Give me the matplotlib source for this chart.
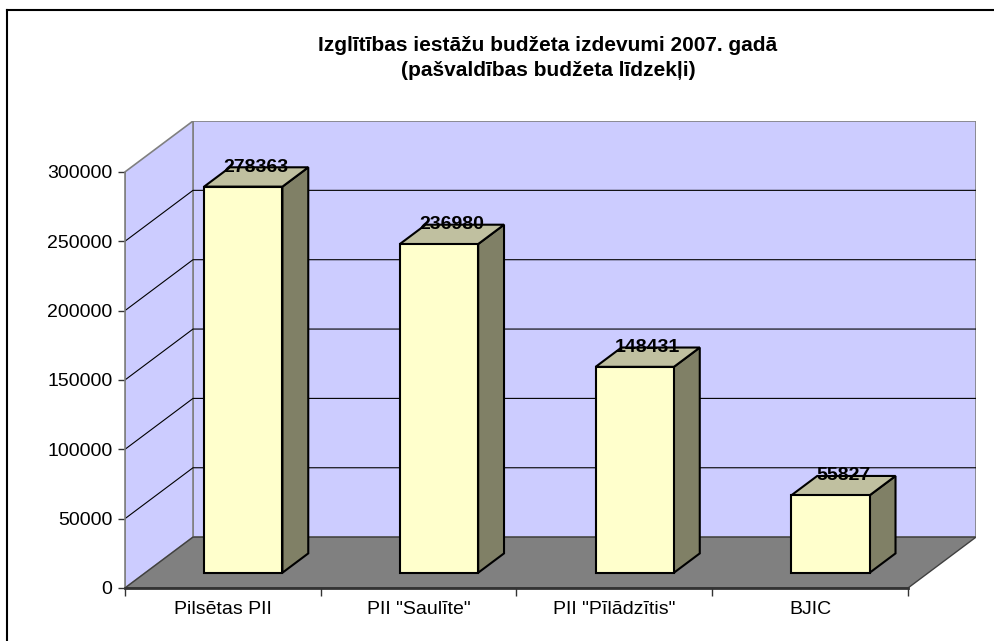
import matplotlib
matplotlib.use('Agg')
import matplotlib.pyplot as plt
from matplotlib.patches import Polygon
from matplotlib.lines import Line2D
import numpy as np

plt.rcParams['font.family'] = ['Liberation Sans', 'DejaVu Sans']

# data
categories = ['Pilsētas PII', 'PII "Saulīte"', 'PII "Pīlādzītis"', 'BJIC']
values = [278363, 236980, 148431, 55827]
yticks = [0, 50000, 100000, 150000, 200000, 250000, 300000]
title = 'Izglītības iestāžu budžeta izdevumi 2007. gadā\n(pašvaldības budžeta līdzekļi)'

ymax = 300000
n = len(categories)
# 3d depth offset in data units
DX = 0.3474
DY = 36691
D0, D1 = 0.3, 0.68
W = 0.4

fig = plt.figure(figsize=(9.94, 6.41), dpi=100)
ax = fig.add_axes([125/994, 53/641, 851/994, 467/641])
ax.set_xlim(0, n + DX)
ax.set_ylim(0, ymax + DY)

# walls and floor
back = Polygon([(DX, DY), (n + DX, DY), (n + DX, ymax + DY), (DX, ymax + DY)],
               closed=True, facecolor='#CCCCFF', edgecolor='#808080', lw=1.2, zorder=1)
side = Polygon([(0, 0), (DX, DY), (DX, ymax + DY), (0, ymax)],
               closed=True, facecolor='#CCCCFF', edgecolor='#808080', lw=1.2, zorder=1)
ax.add_patch(back)
ax.add_patch(side)
for v in yticks[1:-1]:
    ax.plot([0, DX, n + DX], [v, v + DY, v + DY], color='black', lw=0.8, zorder=2)
floor = Polygon([(0, 0), (n, 0), (n + DX, DY), (DX, DY)],
                closed=True, facecolor='#808080', edgecolor='#404040', lw=1, zorder=3)
ax.add_patch(floor)

# bars
pos = np.arange(n) + 0.5
ax.bar(pos + D0*DX, values, width=W, bottom=D0*DY, color='#FFFFCC',
       edgecolor='black', lw=1.5, zorder=5)
for p, v in zip(pos, values):
    xl, xr = p - W/2, p + W/2
    sidef = Polygon([(xr + D0*DX, D0*DY), (xr + D1*DX, D1*DY),
                     (xr + D1*DX, v + D1*DY), (xr + D0*DX, v + D0*DY)],
                    closed=True, facecolor='#808066', edgecolor='black', lw=1.5, zorder=4)
    topf = Polygon([(xl + D0*DX, v + D0*DY), (xr + D0*DX, v + D0*DY),
                    (xr + D1*DX, v + D1*DY), (xl + D1*DX, v + D1*DY)],
                   closed=True, facecolor='#C0C0A0', edgecolor='black', lw=1.5, zorder=4)
    ax.add_patch(sidef)
    ax.add_patch(topf)
    ax.text(p + 0.5*(D0 + D1)*DX, v + D1*DY, str(v), ha='center', va='center',
            fontsize=14, fontweight='bold', zorder=6)

# axes
for s in ['top', 'right']:
    ax.spines[s].set_visible(False)
ax.spines['left'].set_color('#808080')
ax.spines['left'].set_linewidth(1.2)
ax.spines['left'].set_bounds(0, ymax)
ax.spines['bottom'].set_color('#333333')
ax.spines['bottom'].set_linewidth(2)
ax.spines['bottom'].set_bounds(0, n)
ax.spines['bottom'].set_zorder(7)
ax.set_yticks(yticks)
ax.set_yticklabels([str(t) for t in yticks])
ax.tick_params(axis='y', length=5, width=1, color='#333333', labelsize=14, pad=4)
ax.set_xticks(np.arange(n + 1))
ax.set_xticklabels([])
ax.set_xticks(pos, minor=True)
ax.set_xticklabels(categories, minor=True)
ax.tick_params(axis='x', which='major', length=6, width=1, color='#333333')
ax.tick_params(axis='x', which='minor', length=0, labelsize=14, pad=9)

fig.text(548/994, 1 - 58/641, title, ha='center', va='center', fontsize=15,
         fontweight='bold', linespacing=1.45)

# chart border (only top and left visible)
fig.add_artist(Line2D([7/994, 7/994], [0, 1 - 10/641], color='black', lw=1.5))
fig.add_artist(Line2D([7/994, 1], [1 - 10/641, 1 - 10/641], color='black', lw=1.5))

fig.savefig('out.png', dpi=100)
